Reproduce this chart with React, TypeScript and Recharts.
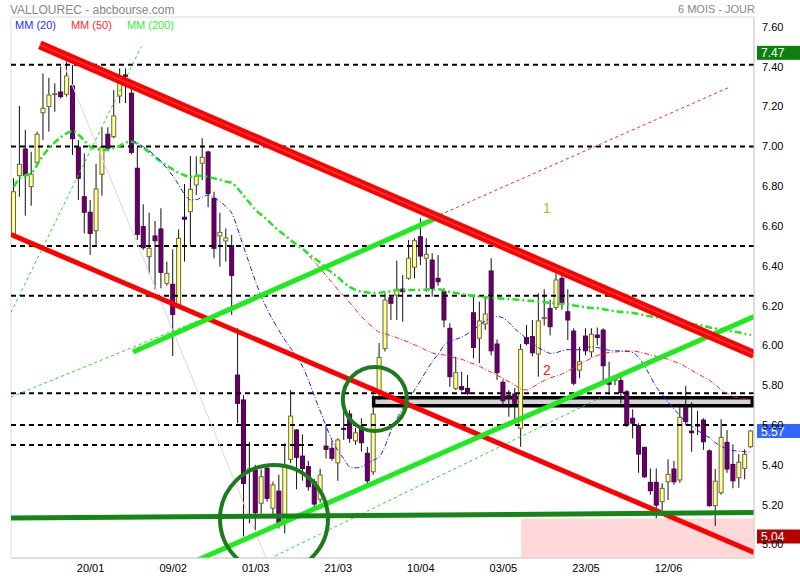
import {
  ComposedChart,
  Bar,
  Line,
  XAxis,
  YAxis,
  ReferenceLine,
  ReferenceArea,
  ReferenceDot,
} from "recharts";

// Daily OHLC, one entry per trading session (126 sessions)
const opens = [
  6.555, 6.853, 6.987, 6.798, 6.92, 7.169, 7.2, 7.262, 7.273, 7.262,
  7.304, 6.996, 6.747, 6.669, 6.576, 6.86, 7.061, 7.049, 7.253, 7.359,
  7.267, 6.89, 6.597, 6.446, 6.55, 6.585, 6.312, 6.307, 6.2, 6.644,
  6.672, 6.806, 6.915, 6.972, 6.739, 6.55, 6.525, 6.501, 5.851, 5.726,
  5.376, 5.374, 5.207, 5.383, 5.182, 5.268, 5.123, 5.428, 5.575, 5.444,
  5.391, 5.315, 5.227, 5.494, 5.483, 5.41, 5.583, 5.655, 5.521, 5.591,
  5.458, 5.365, 5.761, 5.985, 6.24, 6.253, 6.283, 6.337, 6.393, 6.546,
  6.438, 6.429, 6.337, 6.27, 6.086, 5.784, 5.793, 5.784, 6.164, 6.036,
  6.108, 6.374, 6.007, 5.815, 5.75, 5.756, 5.584, 6.039, 6.044, 5.957,
  6.137, 6.186, 6.191, 6.337, 6.169, 6.072, 5.876, 6.047, 5.968, 6.052,
  6.077, 5.818, 5.826, 5.823, 5.767, 5.634, 5.597, 5.488, 5.312, 5.312,
  5.215, 5.315, 5.379, 5.324, 5.689, 5.57, 5.6, 5.625, 5.47, 5.195,
  5.26, 5.513, 5.402, 5.335, 5.382, 5.491,
];
const highs = [
  6.84, 7.203, 7.082, 6.973, 7.074, 7.367, 7.345, 7.317, 7.401, 7.426,
  7.409, 7.032, 6.965, 6.731, 6.912, 7.096, 7.096, 7.283, 7.392, 7.392,
  7.287, 6.996, 6.709, 6.667, 6.625, 6.689, 6.421, 6.483, 6.583, 6.811,
  6.952, 6.95, 7.041, 6.978, 6.772, 6.667, 6.588, 6.555, 6.086, 5.75,
  5.516, 5.4, 5.377, 5.4, 5.315, 5.35, 5.508, 5.776, 5.58, 5.553,
  5.42, 5.33, 5.38, 5.6, 5.52, 5.533, 5.701, 5.675, 5.585, 5.634,
  5.491, 5.751, 6.012, 6.263, 6.253, 6.426, 6.354, 6.53, 6.538, 6.639,
  6.538, 6.463, 6.454, 6.287, 6.111, 5.943, 5.868, 5.851, 6.245, 6.22,
  6.245, 6.438, 6.03, 5.83, 5.776, 5.786, 6.007, 6.103, 6.128, 6.262,
  6.282, 6.23, 6.362, 6.38, 6.282, 6.086, 5.993, 6.086, 6.086, 6.09,
  6.086, 5.918, 5.85, 5.843, 5.776, 5.679, 5.609, 5.491, 5.382, 5.382,
  5.307, 5.428, 5.42, 5.692, 5.796, 5.714, 5.672, 5.634, 5.478, 5.379,
  5.629, 5.575, 5.503, 5.454, 5.478, 5.575,
];
const lows = [
  6.54, 6.747, 6.652, 6.702, 6.91, 7.032, 7.074, 7.174, 7.24, 7.25,
  6.957, 6.731, 6.563, 6.454, 6.5, 6.752, 6.98, 7.04, 7.217, 7.217,
  6.96, 6.53, 6.48, 6.362, 6.282, 6.287, 6.3, 5.947, 6.19, 6.421,
  6.496, 6.756, 6.831, 6.694, 6.438, 6.396, 6.421, 6.153, 5.609, 5.04,
  5.106, 5.072, 5.139, 5.215, 5.139, 5.08, 5.056, 5.408, 5.277, 5.32,
  5.27, 5.17, 5.21, 5.432, 5.42, 5.32, 5.525, 5.51, 5.5, 5.466,
  5.307, 5.35, 5.726, 5.97, 6.128, 6.128, 6.119, 6.33, 6.337, 6.404,
  6.27, 6.245, 6.3, 6.091, 5.792, 5.776, 5.77, 5.75, 5.935, 5.91,
  6.078, 5.95, 5.826, 5.7, 5.642, 5.625, 5.491, 6.0, 5.945, 5.843,
  6.1, 6.05, 6.178, 6.18, 6.027, 5.8, 5.835, 5.95, 5.94, 6.0,
  5.823, 5.751, 5.8, 5.709, 5.59, 5.533, 5.36, 5.334, 5.25, 5.131,
  5.173, 5.223, 5.3, 5.31, 5.6, 5.466, 5.55, 5.475, 5.19, 5.093,
  5.25, 5.36, 5.282, 5.285, 5.327, 5.485,
];
const closes = [
  6.772, 6.91, 6.853, 6.86, 7.061, 7.191, 7.258, 7.265, 7.25, 7.354,
  7.039, 6.84, 6.669, 6.563, 6.786, 6.996, 6.991, 7.153, 7.317, 7.352,
  6.97, 6.558, 6.491, 6.488, 6.526, 6.367, 6.362, 6.156, 6.538, 6.634,
  6.784, 6.851, 6.945, 6.764, 6.488, 6.568, 6.54, 6.352, 5.709, 5.307,
  5.38, 5.159, 5.34, 5.232, 5.299, 5.106, 5.399, 5.645, 5.438, 5.382,
  5.29, 5.203, 5.349, 5.478, 5.433, 5.525, 5.578, 5.533, 5.561, 5.511,
  5.32, 5.655, 5.94, 6.228, 6.212, 6.282, 6.27, 6.438, 6.526, 6.449,
  6.458, 6.287, 6.32, 6.128, 5.843, 5.863, 5.779, 5.759, 5.99, 6.123,
  6.158, 5.973, 5.863, 5.722, 5.74, 5.709, 5.98, 6.01, 5.963, 6.123,
  6.14, 6.094, 6.329, 6.212, 6.128, 5.81, 5.918, 5.973, 6.056, 6.04,
  5.898, 5.805, 5.83, 5.763, 5.6, 5.609, 5.454, 5.34, 5.27, 5.198,
  5.282, 5.352, 5.315, 5.639, 5.617, 5.561, 5.598, 5.516, 5.195, 5.318,
  5.538, 5.379, 5.32, 5.413, 5.453, 5.57,
];

// Moving averages (MM 20 / 50 / 200), blank before each one starts
const mm20 = [
  ...Array(20).fill(null),
  7.03, 7.015, 6.997, 6.977, 6.952, 6.922, 6.887, 6.849, 6.804, 6.756,
  6.731, 6.733, 6.746, 6.756, 6.741, 6.721, 6.696, 6.661, 6.58, 6.49,
  6.404, 6.319, 6.243, 6.178, 6.123, 6.072, 6.025, 5.984, 5.942, 5.891,
  5.821, 5.742, 5.665, 5.59, 5.52, 5.469, 5.427, 5.389, 5.385, 5.391,
  5.408, 5.424, 5.441, 5.5, 5.575, 5.635, 5.685, 5.731, 5.779, 5.826,
  5.876, 5.921, 5.959, 6.002, 6.02, 6.032, 6.042, 6.06, 6.08, 6.103,
  6.125, 6.143, 6.145, 6.137, 6.113, 6.082, 6.058, 6.032, 6.01, 5.987,
  5.972, 5.96, 5.964, 5.974, 5.979, 5.977, 5.979, 5.989, 5.993, 5.989,
  5.982, 5.975, 5.973, 5.972, 5.97, 5.964, 5.937, 5.893, 5.841, 5.788,
  5.751, 5.713, 5.678, 5.645, 5.615, 5.592, 5.572, 5.552, 5.535, 5.51,
  5.492, 5.479, 5.472, 5.468, 5.466, 5.464,
];
const mm50 = [
  ...Array(50).fill(null),
  6.449, 6.419, 6.384, 6.349, 6.314, 6.278, 6.246, 6.213, 6.178, 6.143,
  6.113, 6.088, 6.065, 6.058, 6.048, 6.038, 6.027, 6.015, 6.002, 5.99,
  5.974, 5.962, 5.955, 5.952, 5.945, 5.937, 5.93, 5.917, 5.907, 5.894,
  5.879, 5.864, 5.849, 5.834, 5.816, 5.799, 5.781, 5.776, 5.791, 5.809,
  5.824, 5.837, 5.847, 5.857, 5.872, 5.889, 5.907, 5.922, 5.937, 5.95,
  5.96, 5.965, 5.967, 5.97, 5.972, 5.972, 5.967, 5.96, 5.952, 5.945,
  5.937, 5.93, 5.919, 5.907, 5.891, 5.874, 5.857, 5.841, 5.824, 5.801,
  5.776, 5.758, 5.743, 5.736, 5.731, 5.726,
];
const mm200 = [
  6.797, 6.841, 6.854, 6.866, 6.911, 6.957, 6.992, 7.022, 7.047, 7.067,
  7.077, 7.057, 7.027, 6.997, 6.987, 6.982, 6.982, 6.992, 7.004, 7.02,
  7.024, 7.012, 6.992, 6.969, 6.944, 6.922, 6.901, 6.884, 6.866, 6.854,
  6.848, 6.854, 6.851, 6.846, 6.839, 6.831, 6.823, 6.816, 6.786, 6.751,
  6.715, 6.68, 6.655, 6.63, 6.6, 6.575, 6.552, 6.527, 6.504, 6.484,
  6.459, 6.437, 6.414, 6.386, 6.364, 6.341, 6.314, 6.293, 6.278, 6.27,
  6.266, 6.263, 6.265, 6.268, 6.273, 6.278, 6.278, 6.278, 6.278, 6.278,
  6.281, 6.281, 6.282, 6.276, 6.268, 6.263, 6.258, 6.253, 6.248, 6.245,
  6.242, 6.24, 6.237, 6.235, 6.233, 6.231, 6.228, 6.226, 6.223, 6.22,
  6.217, 6.214, 6.211, 6.208, 6.207, 6.201, 6.196, 6.191, 6.188, 6.187,
  6.182, 6.176, 6.172, 6.168, 6.166, 6.163, 6.158, 6.151, 6.146, 6.141,
  6.137, 6.131, 6.125, 6.119, 6.113, 6.106, 6.103, 6.098, 6.09, 6.085,
  6.08, 6.075, 6.07, 6.065, 6.058, 6.053,
];

// Date labels on the time axis and the session they sit on
const dateTicks = [13, 27, 41, 55, 69, 83, 97, 111];
const dateLabels = ["20/01", "09/02", "01/03", "21/03", "10/04", "03/05", "23/05", "12/06"];
const priceTicks = [5.0, 5.2, 5.4, 5.6, 5.8, 6.0, 6.2, 6.4, 6.6, 6.8, 7.0, 7.2, 7.4, 7.6];

// Horizontal support / resistance levels (dashed)
const levels = [7.41, 7.0, 6.5, 6.25, 5.76, 5.6];
const shortLevel = { y: 5.5, to: 51 };

// Right-hand price tags: period high, last close, period low
const tagValues = [7.47, 5.57, 5.04];
const tagColors = ["#0b800b", "#3366ff", "#b40000"];

const rows = opens.map((o, i) => ({
  i,
  o,
  h: highs[i],
  l: lows[i],
  c: closes[i],
  mm20: mm20[i],
  mm50: mm50[i],
  mm200: mm200[i],
}));

const FONT = "'Liberation Sans', Arial, sans-serif";
const Y_MIN = 4.932;
const Y_MAX = 7.65;

function Candle(props: any) {
  const { x, y, width, height, payload } = props;
  if (y == null || height == null) return null;
  const { o, h, l, c } = payload;
  const cx = x + width / 2;
  const k = height / (h - l);
  const top = y + (h - Math.max(o, c)) * k;
  const bot = y + (h - Math.min(o, c)) * k;
  const up = c >= o;
  return (
    <g>
      <line x1={cx} x2={cx} y1={y} y2={y + height} stroke="#111" strokeWidth={1} />
      <rect
        x={cx - 2}
        y={top}
        width={4}
        height={Math.max(bot - top, 1)}
        fill={up ? "#ffff99" : "#660066"}
        stroke={up ? "#6b6b3a" : "#4a004a"}
        strokeWidth={1}
      />
    </g>
  );
}

function PriceTag(props: any) {
  const { viewBox, text, bg } = props;
  const left = viewBox.x + viewBox.width + 3;
  return (
    <g>
      <rect x={left} y={viewBox.y - 7} width={800 - left} height={14} fill={bg} />
      <text x={left + 4} y={viewBox.y + 4.5} fill="#fff" fontSize={12} fontFamily={FONT}>
        {text}
      </text>
    </g>
  );
}

export default function App() {
  return (
    <div style={{ position: "relative", width: 800, height: 580, background: "#fff", fontFamily: FONT }}>
      <style>{"body{margin:0}"}</style>
      <div style={{ position: "absolute", left: 10, top: 3, fontSize: 12, color: "#888" }}>
        VALLOUREC - abcbourse.com
      </div>
      <div style={{ position: "absolute", right: 45, top: 3, fontSize: 11, color: "#888" }}>
        6 MOIS - JOUR
      </div>
      <div style={{ position: "absolute", left: 15, top: 19, fontSize: 11, display: "flex", gap: 15, zIndex: 2 }}>
        <span style={{ color: "#2a2aff" }}>MM (20)</span>
        <span style={{ color: "#ff2a2a" }}>MM (50)</span>
        <span style={{ color: "#33ee33" }}>MM (200)</span>
      </div>
      <ComposedChart
        width={800}
        height={580}
        data={rows}
        margin={{ top: 17, right: 0, bottom: 0, left: 11 }}
      >
        <XAxis
          type="number"
          dataKey="i"
          domain={[-0.5, 125.5]}
          ticks={dateTicks}
          interval={0}
          tickFormatter={(v: number) => dateLabels[dateTicks.indexOf(v)]}
          tick={{ fontSize: 11, fill: "#000", fontFamily: FONT }}
          tickLine={false}
          tickSize={0}
          tickMargin={6}
          axisLine={{ stroke: "#d0d0d0" }}
          height={22}
          allowDataOverflow
        />
        <YAxis
          orientation="right"
          domain={[Y_MIN, Y_MAX]}
          ticks={priceTicks}
          interval={0}
          tickFormatter={(v: number) => v.toFixed(2)}
          tick={{ fontSize: 11, fill: "#000", fontFamily: FONT }}
          tickLine={false}
          tickSize={0}
          tickMargin={8}
          axisLine={{ stroke: "#d0d0d0" }}
          width={46}
          allowDataOverflow
        />

        <ReferenceArea x1={-0.5} x2={125.5} y1={Y_MIN} y2={Y_MAX} fill="none" stroke="#dcdcdc" ifOverflow="visible" />
        <ReferenceArea x1={86} x2={125.5} y1={Y_MIN} y2={5.13} fill="#ffd9d9" fillOpacity={1} stroke="none" ifOverflow="hidden" />

        {levels.map((v) => (
          <ReferenceLine key={v} y={v} stroke="#000" strokeWidth={2} strokeDasharray="5 4" />
        ))}
        <ReferenceLine
          segment={[{ x: -0.5, y: shortLevel.y }, { x: shortLevel.to, y: shortLevel.y }]}
          stroke="#000"
          strokeWidth={2}
          strokeDasharray="5 4"
        />

        {/* faint diagonal guide */}
        <ReferenceLine segment={[{ x: 8, y: 7.444 }, { x: 42.75, y: 4.932 }]} stroke="#d8d8d8" strokeWidth={1} ifOverflow="hidden" />

        <Bar dataKey={(d: any) => [d.l, d.h]} shape={<Candle />} barSize={5} isAnimationActive={false} />

        <Line dataKey="mm200" stroke="#22e622" strokeWidth={2.5} strokeDasharray="7 3 2 3" dot={false} type="monotone" isAnimationActive={false} />
        <Line dataKey="mm50" stroke="#ff2020" strokeWidth={1} strokeDasharray="5 2 1 2" dot={false} type="monotone" isAnimationActive={false} />
        <Line dataKey="mm20" stroke="#1a1aff" strokeWidth={1} strokeDasharray="5 2 1 2" dot={false} type="monotone" isAnimationActive={false} />

        {/* thin dashed guides */}
        <ReferenceLine segment={[{ x: -0.5, y: 6.166 }, { x: 21.6, y: 7.501 }]} stroke="#22dd22" strokeWidth={1} strokeDasharray="3 3" ifOverflow="hidden" />
        <ReferenceLine segment={[{ x: -0.5, y: 5.741 }, { x: 31.5, y: 6.128 }]} stroke="#22dd22" strokeWidth={1} strokeDasharray="3 3" ifOverflow="hidden" />
        <ReferenceLine segment={[{ x: 44.3, y: 4.942 }, { x: 99.4, y: 5.736 }]} stroke="#22dd22" strokeWidth={1} strokeDasharray="3 3" ifOverflow="hidden" />
        <ReferenceLine segment={[{ x: 72.2, y: 6.655 }, { x: 121.4, y: 7.298 }]} stroke="#ff2020" strokeWidth={1} strokeDasharray="3 3" ifOverflow="hidden" />

        {/* trend channel */}
        <ReferenceLine segment={[{ x: -0.5, y: 6.557 }, { x: 125.5, y: 4.96 }]} stroke="#ff0000" strokeWidth={5} ifOverflow="hidden" />
        <ReferenceLine segment={[{ x: 20.2, y: 5.967 }, { x: 72.8, y: 6.655 }]} stroke="#1eea1e" strokeWidth={5} ifOverflow="hidden" />
        <ReferenceLine segment={[{ x: 30.7, y: 4.916 }, { x: 125.5, y: 6.145 }]} stroke="#1eea1e" strokeWidth={5} ifOverflow="hidden" />
        <ReferenceLine segment={[{ x: 4.4, y: 7.51 }, { x: 125.5, y: 5.955 }]} stroke="#ff0000" strokeWidth={9} ifOverflow="hidden" />
        <ReferenceLine segment={[{ x: 4.4, y: 7.51 }, { x: 125.5, y: 5.955 }]} stroke="#ff3a3a" strokeWidth={1.5} ifOverflow="hidden" />
        <ReferenceLine segment={[{ x: -0.5, y: 5.133 }, { x: 125.5, y: 5.16 }]} stroke="#158515" strokeWidth={5} ifOverflow="hidden" />

        {/* consolidation box */}
        <ReferenceArea x1={61} x2={125.2} y1={5.697} y2={5.737} fill="#d4d4d4" fillOpacity={1} stroke="#000" strokeWidth={3.5} ifOverflow="hidden" />

        <ReferenceDot x={44.1} y={5.128} r={54} fill="none" stroke="#1c7c1c" strokeWidth={4} ifOverflow="hidden" />
        <ReferenceDot x={61.2} y={5.731} r={32} fill="none" stroke="#1c7c1c" strokeWidth={4} ifOverflow="hidden" />

        <ReferenceDot x={90.4} y={6.69} r={0} fill="none" stroke="none" label={{ value: "1", position: "center", fill: "#a6c41e", fontSize: 14, fontFamily: FONT }} />
        <ReferenceDot x={90.4} y={5.876} r={0} fill="none" stroke="none" label={{ value: "2", position: "center", fill: "#e02020", fontSize: 14, fontFamily: FONT }} />

        {tagValues.map((v, k) => (
          <ReferenceLine
            key={"tag" + v}
            y={v}
            stroke="none"
            label={(p: any) => <PriceTag viewBox={p.viewBox} text={v.toFixed(2)} bg={tagColors[k]} />}
          />
        ))}
      </ComposedChart>
    </div>
  );
}
